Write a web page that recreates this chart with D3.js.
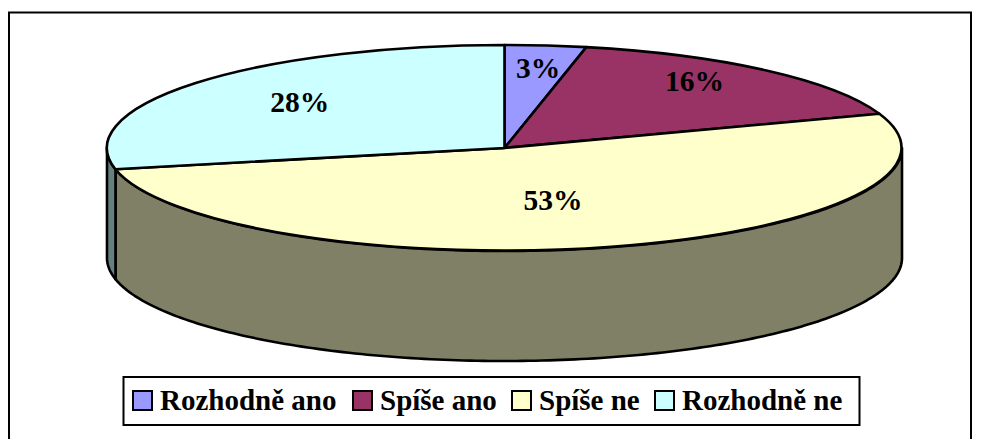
<!DOCTYPE html>
<html><head><meta charset="utf-8">
<script src="https://cdn.jsdelivr.net/npm/d3@7"></script>
<style>html,body{margin:0;padding:0;background:#fff}svg{display:block}text{font-family:"Liberation Serif",serif;font-weight:bold;fill:#000}</style>
</head><body><svg id="c" width="982" height="439"></svg>
<script>
const categories=["Rozhodně ano","Spíše ano","Spíše ne","Rozhodně ne"];
const shares=[3.3,16.3,52.1,28.3];
const percentLabels=["3%","16%","53%","28%"];
const topColors=["#9999ff","#993366","#ffffcc","#ccffff"];
const sideColors=["#4d4d80","#4d1a33","#808066","#668080"];
const svg=d3.select("#c");
const cx=504.5,cy=148,rx=397.5,ry=103,depth=110;
const sx=d3.scaleLinear().domain([-1,1]).range([cx-rx,cx+rx]);
const sy=d3.scaleLinear().domain([-1,1]).range([cy-ry,cy+ry]);
const LW=2.6;
svg.append("rect").attr("x",9).attr("y",12.5).attr("width",962).attr("height",440).attr("fill","#fff").attr("stroke","#000").attr("stroke-width",2);
const pie=d3.pie().sort(null).value(d=>d).startAngle(0).endAngle(2*Math.PI);
const arcs=pie(shares);
const px=a=>sx(Math.sin(a)),py=a=>sy(-Math.cos(a));
const HALF=Math.PI/2,END=3*Math.PI/2;
arcs.forEach((d,i)=>{
  const a0=Math.max(d.startAngle,HALF),a1=Math.min(d.endAngle,END);
  if(a1<=a0)return;
  const n=Math.ceil((a1-a0)*60);
  const t=d3.range(n+1).map(k=>a0+(a1-a0)*k/n);
  const pts=t.map(a=>[px(a),py(a)]).concat(t.slice().reverse().map(a=>[px(a),py(a)+depth]));
  svg.append("path").attr("d",d3.line()(pts)+"Z").attr("fill",sideColors[i]).attr("stroke","#000").attr("stroke-width",LW).attr("stroke-linejoin","round");
});
const arc=d3.arc().innerRadius(0).outerRadius(1);
const g=svg.append("g").attr("transform",`translate(${cx},${cy}) scale(${rx},${ry})`);
g.selectAll("path").data(arcs).join("path").attr("d",arc).attr("fill",(d,i)=>topColors[i]).attr("stroke","#000").attr("stroke-width",LW).attr("vector-effect","non-scaling-stroke").attr("stroke-linejoin","round");
const labelPos=[[.0845,-.78],[.478,-.65],[.122,.50],[-.515,-.445]];
svg.selectAll("text.pct").data(percentLabels).join("text").attr("class","pct")
  .attr("x",(d,i)=>sx(labelPos[i][0])).attr("y",(d,i)=>sy(labelPos[i][1])).attr("text-anchor","middle").attr("dominant-baseline","central").attr("font-size",29.5).text(d=>d);
svg.append("rect").attr("x",123.5).attr("y",377).attr("width",736).attr("height",48).attr("fill","#fff").attr("stroke","#000").attr("stroke-width",2);
const swatchX=[133,353,512,655],textX=[160,380,539,682];
categories.forEach((c,i)=>{
  svg.append("rect").attr("x",swatchX[i]).attr("y",391).attr("width",19).attr("height",19).attr("fill",topColors[i]).attr("stroke","#000").attr("stroke-width",2);
  svg.append("text").attr("x",textX[i]).attr("y",410).attr("font-size",29).text(c);
});
</script></body></html>
